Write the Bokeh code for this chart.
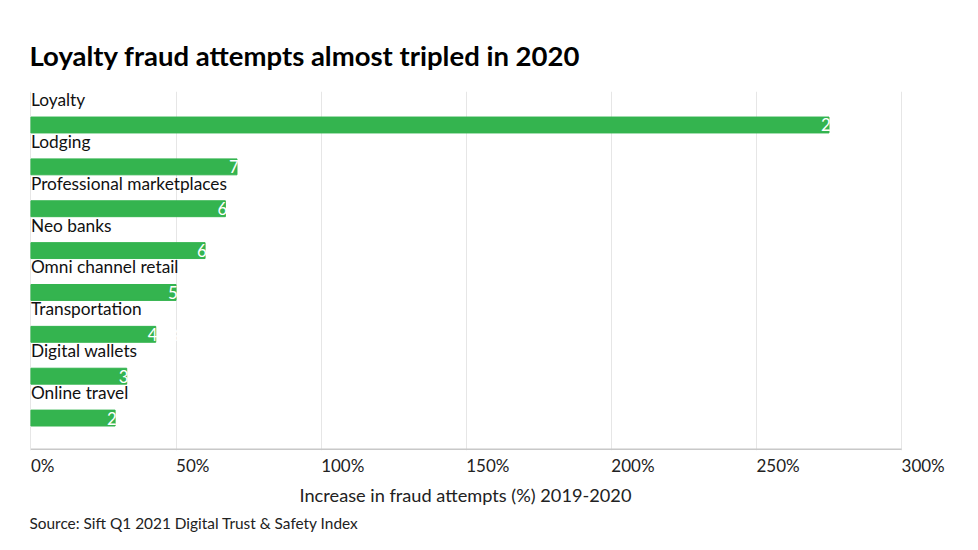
from bokeh.plotting import figure
from bokeh.models import (ColumnDataSource, Range1d, FixedTicker, CustomJSTickFormatter,
                          Title)
from bokeh.core.properties import value
from bokeh.embed import file_html
from bokeh.resources import INLINE

categories = ["Loyalty", "Lodging", "Professional marketplaces", "Neo banks",
              "Omni channel retail", "Transportation", "Digital wallets", "Online travel"]
increase = [275, 71, 67, 60, 50, 43, 33, 29]
value_labels = ["275%", "71%", "67%", "60%", "50%", "43%", "33%", "29%"]
x_ticks = [0, 50, 100, 150, 200, 250, 300]
x_tick_labels = ["0%", "50%", "100%", "150%", "200%", "250%", "300%"]

GREEN = "#34b44f"
FONT = "Lato"
Y_TOP, Y_AXIS = -0.80, 7.745
Y_BOTTOM = Y_AXIS + 0.03
X_MIN, X_MAX = -0.5, 311.7

WIDTH = 970
BORDER_L, BORDER_R = 29, 35
px_per_unit = (WIDTH - BORDER_L - BORDER_R) / (X_MAX - X_MIN)
# tick labels are left-aligned at their gridline: shift the label centres
DIGIT_W, PCT_W = 9.9, 13.5
label_pos = [round(t + (DIGIT_W * (len(s) - 1) + PCT_W) / 2 / px_per_unit, 3)
             for t, s in zip(x_ticks, x_tick_labels)]

pos = list(range(len(categories)))
src = ColumnDataSource(dict(
    y=pos,
    ylab=[p - 0.61 for p in pos],
    v=increase,
    cat=categories,
    vl=value_labels,
))

p = figure(width=WIDTH, height=540, output_backend="svg", toolbar_location=None,
           x_range=Range1d(X_MIN, X_MAX), y_range=Range1d(Y_BOTTOM, Y_TOP),
           min_border_left=BORDER_L, min_border_right=BORDER_R, min_border_top=91,
           min_border_bottom=90)

p.title.text = "Loyalty fraud attempts almost tripled in 2020"
p.title.text_font = FONT
p.title.text_font_size = "27.5px"
p.title.text_font_style = "bold"
p.title.text_color = "#000000"
p.title.align = "left"
p.title.standoff = 40

p.outline_line_color = None
p.background_fill_color = "white"
p.border_fill_color = "white"

p.hbar(y="y", left=0, right="v", height=0.38, color=GREEN, source=src)
p.text(x=0, y="ylab", text="cat", source=src, text_font=value(FONT),
       text_font_size="17.3px", text_color="#111111", text_align="left",
       text_baseline="alphabetic")
p.text(x="v", y="y", text="vl", source=src, text_font=value(FONT),
       text_font_size="17px", text_color="white", text_align="left",
       text_baseline="middle", x_offset=-8)

# axis baseline spanning the tick range
p.segment(x0=[x_ticks[0]], x1=[x_ticks[-1]], y0=[Y_AXIS], y1=[Y_AXIS],
          line_color="#c8c8c8", line_width=1.5)

p.yaxis.visible = False
p.ygrid.visible = False

ax = p.xaxis[0]
ax.ticker = FixedTicker(ticks=label_pos)
ax.formatter = CustomJSTickFormatter(args=dict(labels=x_tick_labels),
                                     code="return labels[index]")
ax.major_tick_line_color = None
ax.minor_tick_line_color = None
ax.major_tick_out = 0
ax.major_tick_in = 0
ax.axis_line_color = None
ax.major_label_standoff = 4
ax.major_label_text_font = FONT
ax.major_label_text_font_size = "17px"
ax.major_label_text_color = "#222222"

p.xgrid.ticker = FixedTicker(ticks=x_ticks)
p.xgrid.grid_line_color = "#e6e6e6"
p.xgrid.grid_line_width = 1

axis_title = Title(text="Increase in fraud attempts (%) 2019-2020",
                   text_font=FONT, text_font_size="18.2px", text_font_style="normal",
                   text_color="#222222", align="left", offset=270, standoff=7)
p.add_layout(axis_title, "below")

src_title = Title(text="Source: Sift Q1 2021 Digital Trust & Safety Index",
                  text_font=FONT, text_font_size="15.4px", text_font_style="normal",
                  text_color="#222222", align="left", standoff=5)
p.add_layout(src_title, "below")

open("out.html", "w").write(file_html(p, INLINE))
